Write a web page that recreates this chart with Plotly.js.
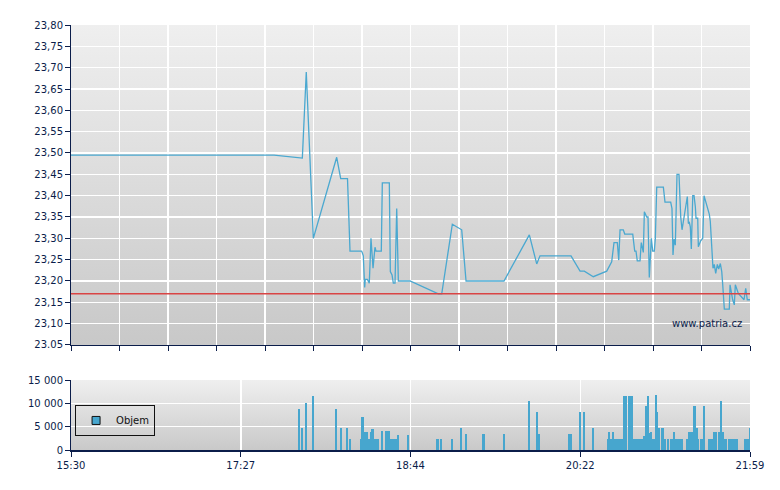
<!DOCTYPE html>
<html>
<head>
<meta charset="utf-8">
<script src="https://cdn.plot.ly/plotly-3.0.1.min.js"></script>
<style>
  html, body { margin: 0; padding: 0; background: #fff; }
  #chart { width: 780px; height: 490px; }
</style>
</head>
<body>
<div id="chart"></div>
<script>
// session position (0 = 15:30, 100 = 21:59), price
let priceX = [0.00, 29.90, 34.07, 34.65, 35.69, 39.13, 39.72, 40.72, 41.09, 42.81,
  43.05, 43.25, 43.34, 43.64, 43.93, 44.18, 44.48, 44.77, 44.92, 45.70,
  45.85, 46.88, 47.03, 47.28, 47.47, 47.72, 47.97, 48.21, 49.93, 54.10,
  54.60, 56.16, 57.54, 58.18, 63.77, 67.50, 68.59, 69.07, 73.64, 74.97,
  75.60, 76.92, 78.90, 79.28, 79.63, 79.97, 80.46, 80.67, 80.86, 81.34,
  81.55, 82.73, 83.02, 83.21, 83.40, 83.80, 83.99, 84.29, 84.44, 84.79,
  84.98, 85.17, 85.47, 85.67, 85.91, 86.06, 86.26, 87.24, 87.48, 88.32,
  88.51, 88.66, 88.81, 89.00, 89.25, 89.54, 89.80, 89.99, 90.28, 90.77,
  90.92, 91.07, 91.21, 91.36, 91.57, 91.76, 91.95, 92.05, 92.30, 92.39,
  92.74, 93.04, 93.23, 94.01, 94.15, 94.41, 94.55, 94.74, 94.95, 95.19,
  95.39, 95.63, 95.84, 95.98, 96.22, 96.95, 97.06, 97.45, 97.69, 97.84,
  98.28, 99.12, 99.37, 99.60, 100.00];
let priceY = [23.495, 23.495, 23.488, 23.69, 23.30, 23.49, 23.44, 23.44, 23.27, 23.27,
  23.259, 23.185, 23.204, 23.204, 23.195, 23.30, 23.23, 23.279, 23.27, 23.27,
  23.43, 23.43, 23.222, 23.214, 23.195, 23.195, 23.37, 23.20, 23.20, 23.17,
  23.17, 23.333, 23.32, 23.20, 23.20, 23.308, 23.24, 23.259, 23.259, 23.223,
  23.223, 23.21, 23.223, 23.233, 23.245, 23.29, 23.29, 23.249, 23.32, 23.32,
  23.31, 23.31, 23.27, 23.27, 23.247, 23.247, 23.29, 23.267, 23.362, 23.35,
  23.35, 23.208, 23.30, 23.27, 23.27, 23.30, 23.42, 23.42, 23.385, 23.385,
  23.37, 23.261, 23.298, 23.284, 23.45, 23.45, 23.35, 23.32, 23.347, 23.398,
  23.335, 23.337, 23.327, 23.275, 23.40, 23.40, 23.374, 23.347, 23.347, 23.28,
  23.294, 23.30, 23.40, 23.356, 23.34, 23.267, 23.23, 23.239, 23.218, 23.239,
  23.228, 23.241, 23.222, 23.192, 23.134, 23.134, 23.191, 23.156, 23.144, 23.191,
  23.171, 23.156, 23.183, 23.156, 23.156];

let prevClose = 23.17;

// volume intervals: start, end, volume
let volStart = [33.43, 33.87, 34.46, 35.49, 38.88, 39.62, 40.50, 40.95, 42.56, 42.71,
  43.11, 43.74, 44.04, 44.18, 44.63, 45.66, 46.25, 46.98, 48.01, 49.49,
  53.76, 54.35, 55.97, 57.29, 58.03, 60.53, 63.63, 67.31, 68.49, 68.78,
  73.20, 74.82, 75.41, 76.73, 78.94, 79.09, 79.38, 79.68, 79.97, 81.30,
  82.03, 82.77, 84.24, 84.54, 84.83, 85.13, 85.27, 85.57, 86.01, 86.31,
  86.46, 86.90, 87.34, 87.79, 88.23, 88.67, 88.96, 90.58, 90.87, 91.61,
  92.05, 92.34, 92.64, 93.08, 93.81, 94.55, 95.29, 95.58, 95.88, 96.17,
  96.76, 99.12, 99.85];
let volEnd = [33.73, 34.17, 34.76, 35.79, 39.18, 39.92, 40.80, 41.24, 42.71, 43.11,
  43.74, 44.04, 44.18, 44.63, 45.36, 45.95, 46.98, 48.01, 48.31, 49.78,
  54.20, 54.64, 56.26, 57.59, 58.32, 60.97, 63.92, 67.60, 68.78, 69.07,
  73.79, 75.11, 75.70, 77.03, 79.09, 79.38, 79.68, 79.97, 81.30, 81.89,
  82.77, 84.24, 84.54, 84.83, 85.13, 85.27, 85.57, 86.01, 86.31, 86.46,
  86.75, 87.34, 87.64, 88.08, 88.67, 88.96, 90.14, 90.87, 91.61, 92.05,
  92.34, 92.49, 93.08, 93.37, 94.55, 95.14, 95.58, 95.88, 96.17, 96.61,
  98.23, 99.85, 100.00];
let volValue = [8800, 4700, 10000, 11600, 8800, 4700, 4700, 2400, 2400, 7100,
  3900, 2400, 3900, 4400, 2400, 4000, 4000, 2400, 3200, 3200,
  2400, 2400, 2400, 4700, 3400, 3400, 3400, 10500, 8100, 3400,
  3400, 8100, 8100, 4700, 2400, 3900, 2400, 3900, 2400, 11600,
  11600, 2400, 3000, 9400, 11600, 3600, 3900, 2400, 11800, 8100,
  4700, 4700, 2400, 2400, 2400, 3900, 2400, 2400, 3900, 9400,
  4700, 2400, 2400, 9400, 2400, 3900, 3900, 10500, 3900, 2400,
  2400, 2400, 4700];

let priceTickVals = [23.05, 23.10, 23.15, 23.20, 23.25, 23.30, 23.35, 23.40,
  23.45, 23.50, 23.55, 23.60, 23.65, 23.70, 23.75, 23.80];
let priceTickText = ['23.05', '23,10', '23,15', '23,20', '23,25', '23,30', '23,35', '23,40',
  '23,45', '23,50', '23,55', '23,60', '23,65', '23,70', '23,75', '23,80'];
let volTickVals = [0, 5000, 10000, 15000];
let volTickText = ['0', '5 000', '10 000', '15 000'];
let timeTickVals = [0, 25, 50, 75, 100];
let timeTickText = ['15:30', '17:27', '18:44', '20:22', '21:59'];

let navy = '#0b1d4a';
let blue = '#4aa8d0';
let mainBottom = 0.2471;
let volTop = 0.1647;

function gradient(top, bottom) {
  let svg = "<svg xmlns='http://www.w3.org/2000/svg' width='10' height='100' preserveAspectRatio='none'>" +
    "<defs><linearGradient id='g' x1='0' y1='0' x2='0' y2='1'>" +
    "<stop offset='0' stop-color='" + top + "'/><stop offset='1' stop-color='" + bottom + "'/>" +
    "</linearGradient></defs><rect width='10' height='100' fill='url(#g)'/></svg>";
  return 'data:image/svg+xml;charset=utf-8,' + encodeURIComponent(svg);
}

let volX = [];
let volW = [];
for (let i = 0; i < volStart.length; i++) {
  volX.push((volStart[i] + volEnd[i]) / 2);
  volW.push(volEnd[i] - volStart[i]);
}

let priceTrace = {
  x: priceX,
  y: priceY,
  type: 'scatter',
  mode: 'lines',
  line: {color: blue, width: 1.3},
  xaxis: 'x',
  yaxis: 'y',
  showlegend: false,
};

let closeTrace = {
  x: [0, 100],
  y: [prevClose, prevClose],
  type: 'scatter',
  mode: 'lines',
  line: {color: '#d94444', width: 1.5},
  xaxis: 'x',
  yaxis: 'y',
  showlegend: false,
};

let volTrace = {
  x: volX,
  y: volValue,
  width: volW,
  type: 'bar',
  marker: {color: '#47a6ce', line: {width: 0}},
  xaxis: 'x2',
  yaxis: 'y2',
  showlegend: false,
};

// legend entry only
let legendTrace = {
  x: [null],
  y: [null],
  type: 'scatter',
  mode: 'markers',
  name: 'Objem',
  marker: {symbol: 'square', size: 8, color: '#47a6ce', line: {color: '#111', width: 1}},
  xaxis: 'x2',
  yaxis: 'y2',
};

let tickFont = {family: 'DejaVu Sans', size: 10, color: navy};

let layout = {
  width: 780,
  height: 490,
  margin: {l: 71, r: 30, t: 25, b: 40, pad: 0},
  paper_bgcolor: '#ffffff',
  plot_bgcolor: 'rgba(0,0,0,0)',
  font: tickFont,
  hovermode: false,
  bargap: 0,
  xaxis: {
    domain: [0, 1],
    range: [0, 100],
    anchor: 'y',
    tick0: 0,
    dtick: 100 / 14,
    ticks: 'outside',
    ticklen: 5,
    tickcolor: navy,
    showticklabels: false,
    showgrid: true,
    gridcolor: '#ffffff',
    gridwidth: 1.5,
    showline: true,
    linecolor: navy,
    linewidth: 1,
    zeroline: false,
  },
  yaxis: {
    domain: [mainBottom, 1],
    range: [23.05, 23.80],
    anchor: 'x',
    tickmode: 'array',
    tickvals: priceTickVals,
    ticktext: priceTickText,
    ticks: 'outside',
    ticklen: 5,
    tickcolor: navy,
    tickfont: tickFont,
    showgrid: true,
    gridcolor: '#ffffff',
    gridwidth: 1.5,
    showline: true,
    linecolor: navy,
    linewidth: 1,
    zeroline: false,
  },
  xaxis2: {
    domain: [0, 1],
    range: [0, 100],
    anchor: 'y2',
    tickmode: 'array',
    tickvals: timeTickVals,
    ticktext: timeTickText,
    ticks: 'outside',
    ticklen: 5,
    tickcolor: navy,
    tickfont: tickFont,
    showgrid: true,
    gridcolor: '#ffffff',
    gridwidth: 1.5,
    showline: true,
    linecolor: navy,
    linewidth: 1.5,
    zeroline: false,
  },
  yaxis2: {
    domain: [0, volTop],
    range: [0, 15000],
    anchor: 'x2',
    tickmode: 'array',
    tickvals: volTickVals,
    ticktext: volTickText,
    ticks: 'outside',
    ticklen: 5,
    tickcolor: navy,
    tickfont: tickFont,
    showgrid: true,
    gridcolor: '#ffffff',
    gridwidth: 1.5,
    showline: true,
    linecolor: navy,
    linewidth: 1,
    zeroline: false,
  },
  legend: {
    x: 0.006,
    y: 0.106,
    xanchor: 'left',
    yanchor: 'top',
    bgcolor: 'rgba(0,0,0,0)',
    bordercolor: '#111111',
    borderwidth: 1,
    font: {family: 'DejaVu Sans', size: 10, color: '#111111'},
    itemwidth: 30,
  },
  images: [
    {
      source: gradient('#efefef', '#c8c8c8'),
      xref: 'paper', yref: 'paper',
      x: 0, y: 1, sizex: 1, sizey: 1 - mainBottom,
      xanchor: 'left', yanchor: 'top',
      sizing: 'stretch', layer: 'below',
    },
    {
      source: gradient('#efefef', '#c9c9c9'),
      xref: 'paper', yref: 'paper',
      x: 0, y: volTop, sizex: 1, sizey: volTop,
      xanchor: 'left', yanchor: 'top',
      sizing: 'stretch', layer: 'below',
    },
  ],
  annotations: [
    {
      text: 'www.patria.cz',
      xref: 'paper', yref: 'paper',
      x: 0.9912, y: 0.2988,
      xanchor: 'right', yanchor: 'middle',
      showarrow: false,
      font: {family: 'DejaVu Sans', size: 10, color: navy},
    },
  ],
};

Plotly.newPlot('chart', [priceTrace, closeTrace, volTrace, legendTrace], layout,
  {displayModeBar: false, staticPlot: true});
</script>
</body>
</html>
